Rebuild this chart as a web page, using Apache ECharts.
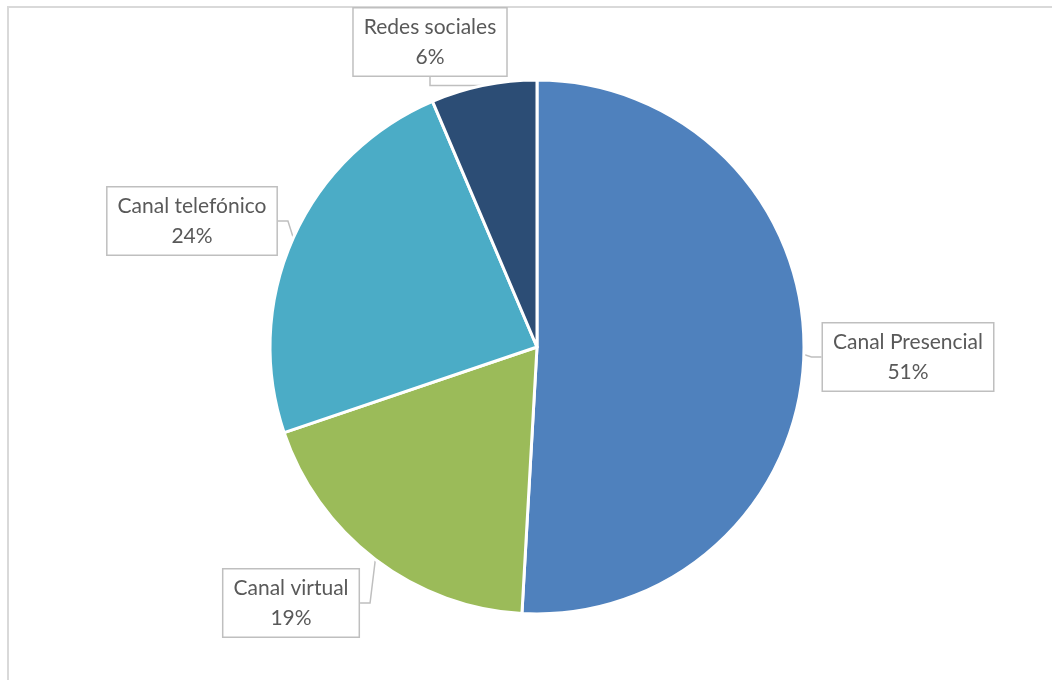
<!DOCTYPE html>
<html>
<head>
<meta charset="utf-8">
<script src="https://cdn.jsdelivr.net/npm/echarts@6/dist/echarts.min.js"></script>
<style>
html,body{margin:0;padding:0;background:#fff;}
#chart{width:1052px;height:680px;}
</style>
</head>
<body>
<div id="chart"></div>
<script>
// Data
const categories = ['Canal Presencial', 'Canal virtual', 'Canal telefónico', 'Redes sociales'];
const values = [50.9, 18.9, 23.8, 6.4];
const colors = ['#4F81BD', '#9BBB59', '#4BACC6', '#2C4D75'];

// Layout (label box centres)
const labelCenters = [[908, 357], [291, 603], [192, 221], [430, 42]];

const chart = echarts.init(document.getElementById('chart'));
chart.setOption({
  animation: false,
  backgroundColor: '#ffffff',
  graphic: [{
    type: 'rect',
    shape: { x: 8, y: 7, width: 1060, height: 700 },
    style: { fill: 'none', stroke: '#D9D9D9', lineWidth: 2 },
    silent: true
  }],
  series: [{
    type: 'pie',
    center: [537, 347],
    radius: [0, 267],
    startAngle: 90,
    clockwise: true,
    percentPrecision: 0,
    data: categories.map((c, i) => ({ name: c, value: values[i], itemStyle: { color: colors[i] } })),
    itemStyle: { borderColor: '#ffffff', borderWidth: 3 },
    label: {
      show: true,
      formatter: '{b}\n{d}%',
      fontFamily: 'Lato',
      fontSize: 21,
      color: '#595959',
      lineHeight: 30,
      align: 'center',
      backgroundColor: '#ffffff',
      borderColor: '#BFBFBF',
      borderWidth: 1.5,
      padding: [4, 10, 3, 10]
    },
    labelLine: {
      show: true,
      length: 10,
      length2: 10,
      lineStyle: { color: '#BFBFBF', width: 1.5 }
    },
    labelLayout: function (params) {
      const p = labelCenters[params.dataIndex];
      return { x: p[0], y: p[1], align: 'center', verticalAlign: 'middle' };
    }
  }]
});
</script>
</body>
</html>
